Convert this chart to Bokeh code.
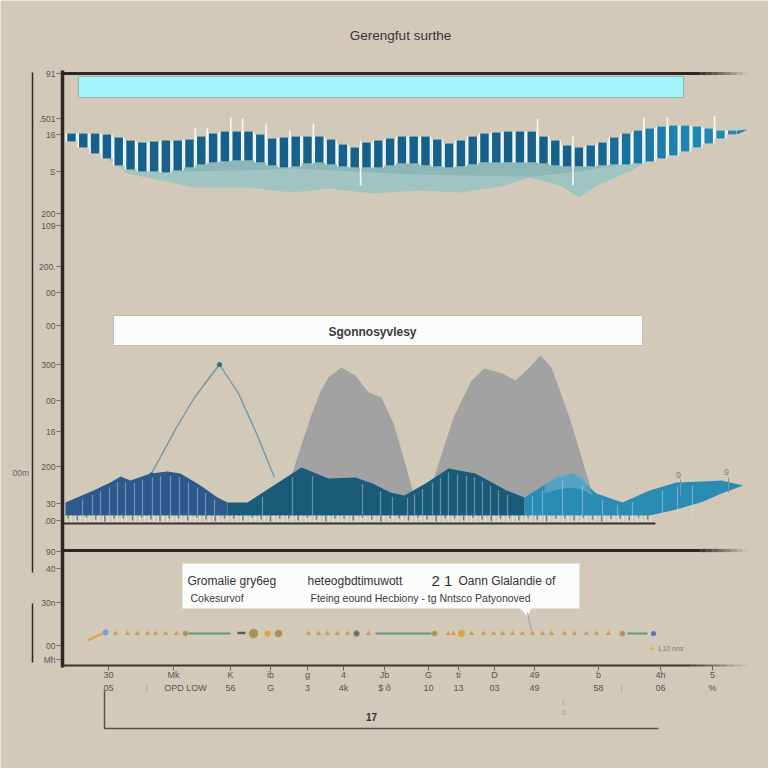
import numpy as np
from bokeh.plotting import figure
from bokeh.models import Range1d
from bokeh.core.properties import value
from bokeh.embed import file_html
from bokeh.resources import INLINE

# ---------------- data ----------------
title_text = "Gerengfut surthe"
mid_box_text = "Sgonnosyvlesy"

# top panel: striped band, one bar per sample (upper and lower level)
band_index = list(range(1, 58))
band_upper = [67, 67, 67, 66, 63, 60, 58, 59, 60, 60, 61, 64, 67, 69, 69, 69, 66, 62, 63, 64,
              64, 64, 61, 56, 53, 58, 60, 62, 64, 64, 64, 61, 57, 60, 64, 67, 68, 69, 69, 69,
              64, 60, 55, 53, 55, 58, 63, 67, 70, 72, 74, 75, 75, 74, 72, 70, 70]
band_lower = [59, 53, 47, 42, 35, 31, 29, 29, 28, 30, 33, 36, 38, 39, 40, 40, 38, 35, 33, 34,
              37, 38, 36, 34, 33, 33, 33, 35, 37, 37, 35, 34, 33, 34, 36, 38, 38, 38, 38, 38,
              37, 35, 34, 34, 34, 35, 36, 36, 37, 39, 42, 45, 49, 53, 57, 62, 66]
band_tip_index = [57.4, 58.3, 57.4]
band_tip_level = [70, 71, 66]

spike_index = [11.5, 12.5, 14.5, 15.5, 17.5, 19.5, 21.5, 25.5, 40.5, 43.5, 49.5, 51.5, 55.5]
spike_high = [72, 72, 83, 82, 77, 70, 77, 60, 82, 65, 83, 83, 85]
spike_low = [55, 55, 55, 55, 55, 55, 55, 15, 55, 15, 60, 60, 62]

teal_index = [1.34, 3.46, 5.75, 8.54, 11.4, 15.9, 19.7, 22.8, 26.5, 30.3, 34.1, 37.4, 39.8,
              42.4, 44.0, 45.5, 48.5, 51.2, 53.8, 56.0]
teal_upper = [62, 50, 35, 32, 40, 42, 40, 40, 40, 40, 40, 40, 40, 40, 40, 40, 40, 50, 58, 66]
teal_lower = [60, 47, 27, 20, 13, 13, 8, 12, 7, 10, 8, 14, 23, 15, 3, 15, 30, 50, 60, 66]
teal2_index = [5.75, 10, 15, 20, 25, 30, 35, 40, 44, 48, 51]
teal2_upper = [35, 40, 40, 40, 40, 40, 40, 40, 40, 42, 50]
teal2_lower = [30, 29, 30, 32, 29, 26, 25, 24, 29, 37, 48]

# middle panel: wave, grey peaks, thin peak line
wave_x = [3, 31, 48, 58, 68, 88, 105, 118, 138, 155, 165, 185, 208, 239, 266, 293, 310, 328,
          342, 363, 386, 413, 444, 462, 489, 511, 534, 560, 587, 614, 641, 659, 681]
wave_top = [21, 33, 41, 47, 43, 50, 52, 50, 38, 26, 21, 21, 36, 56, 45, 46, 40, 31, 28, 40,
            55, 50, 33, 26, 43, 50, 30, 21, 33, 41, 42, 43, 38]
wave_base = [8] * 29 + [14, 22, 30, 38]
hump_x = [482, 495, 508, 520, 530]
hump_top = [38, 48, 51, 46, 30]
hump_base = [30, 34, 36, 34, 28]

grey1_x = [222, 236, 248, 258, 266, 279, 293, 306, 319, 331, 342, 351]
grey1_top = [25, 70, 106, 132, 146, 156, 148, 131, 126, 100, 63, 30]
grey2_x = [365, 373, 391, 409, 422, 440, 453, 467, 478, 489, 507, 520, 529]
grey2_top = [25, 50, 106, 143, 155, 150, 143, 156, 168, 156, 106, 63, 33]

peak_line_x = [89, 114, 132, 157, 176, 194, 212]
peak_line_y = [50, 96, 126, 159, 130, 90, 46]

streak_x = [20, 30, 38, 47, 55, 63, 72, 80, 90, 98, 108, 117, 126, 135, 143, 152, 200, 230,
            250, 300, 318, 330, 345, 352, 360, 370, 378, 386, 395, 404, 412, 420, 428, 436,
            445, 470, 480, 500, 520, 540, 555, 570, 600, 615, 630]

# bottom panel: marker row
tri_x = [53, 65, 75, 85, 93, 103, 114, 246, 256, 265, 275, 285, 306, 386, 391, 409, 421,
         431, 440, 450, 460, 470, 480, 489, 502, 512, 524, 534, 546]
tri_y = [32] * len(tri_x)
olive_x = [123, 191, 216, 372, 560]
olive_size = [5, 9, 7, 5, 5]
orange_dot_x = [205, 399]
teal_dot_x = [294]
blue_dot_x = [43, 591]
green_start = [126, 313, 565]
green_end = [168, 369, 585]

# tick labels
left_tick_pos = [73, 118, 134, 171, 213, 225, 266, 292, 325, 364, 400, 431, 466, 503, 520,
                 551, 568, 602, 645, 659]
left_tick_labels = ["91", ".501", "16", "S", "200", "109", "200.", "00", "00", "300", "00",
                    "16", "200", "30", ".00", "90", "40", "30n", "00", "Mh"]
bottom_tick_pos = [108, 173, 230, 270, 307, 343, 384, 428, 458, 494, 534, 598, 660, 712]
bottom_row1 = ["30", "Mk", "K", "ib", "g", "4", "Jb", "G", "ti", "D", "49", "b", "4h", "5"]
bottom_row2 = ["05", "OPD LOW", "56", "G", "3", "4k", "$ õ", "10", "13", "03", "49", "58",
               "06", "%"]

# ---------------- styles ----------------
BG = "#d3c9b9"
DARK = "#2b2826"
FONT = value("Liberation Sans")
W = 768


def lin_range(v_a, px_a, v_b, px_b, lo_px, hi_px):
    s = (v_b - v_a) / (px_b - px_a)
    return Range1d(start=v_a + (lo_px - px_a) * s, end=v_a + (hi_px - px_a) * s)


def blend(c1, c2, t):
    a = [int(c1[i:i + 2], 16) for i in (1, 3, 5)]
    b = [int(c2[i:i + 2], 16) for i in (1, 3, 5)]
    return "#%02x%02x%02x" % tuple(int(round(a[k] + (b[k] - a[k]) * t)) for k in range(3))


p = figure(width=W, height=W, x_range=Range1d(0, W), y_range=Range1d(W, 0),
           output_backend="svg", toolbar_location=None, min_border=0,
           x_axis_type=None, y_axis_type=None)
p.background_fill_color = BG
p.border_fill_color = BG
p.outline_line_color = None

p.extra_x_ranges = {
    "tx": lin_range(1, 71, 2, 82.8, 0, W),
    "mx": lin_range(0, 62, 100, 162, 0, W),
}
p.extra_y_ranges = {
    "ty": lin_range(0, 200, 100, 100, W, 0),
    "my": lin_range(0, 523, 100, 423, W, 0),
    "by": lin_range(0, 665, 100, 565, W, 0),
}
T = dict(x_range_name="tx", y_range_name="ty")
M = dict(x_range_name="mx", y_range_name="my")
B = dict(x_range_name="mx", y_range_name="by")


def fade_line(x0, xs, x1, y0, y1, width, color):
    p.segment(x0=[x0], y0=[y0], x1=[xs], y1=[y1], line_width=width, line_color=color)
    n = 8
    edges = np.linspace(xs, x1, n + 1)
    p.segment(x0=edges[:-1], y0=[y0] * n, x1=edges[1:], y1=[y1] * n, line_width=width,
              line_color=color, line_alpha=list(np.linspace(0.9, 0.05, n)))


# ---- title
p.text(x=[400], y=[35], text=[title_text], text_font=FONT, text_font_size="13.5px",
       text_color="#353535", text_align="center", text_baseline="middle")

# ---- top panel
p.varea(x=teal_index, y1=teal_lower, y2=teal_upper, fill_color="#9fc4c1", **T)
p.varea(x=teal2_index, y1=teal2_lower, y2=teal2_upper, fill_color="#8db6b6", **T)
bar_colors = [blend("#15618c", "#2088b6", min(1, max(0, (i - 44) / 10))) for i in band_index]
p.vbar(x=band_index, top=band_upper, bottom=band_lower, width=1.0, fill_color="#f4f6f6",
       line_color=None, **T)
p.vbar(x=band_index, top=band_upper, bottom=band_lower, width=0.72, fill_color=bar_colors,
       line_color=None, **T)
p.patch(x=band_tip_index, y=band_tip_level, fill_color="#2088b6", line_color=None, **T)
p.segment(x0=spike_index, y0=spike_low, x1=spike_index, y1=spike_high, line_color="#f7f7f5",
          line_width=1.6, **T)

# cyan banner
p.quad(left=[78], right=[683], top=[76], bottom=[97], fill_color="#a1f4fa",
       line_color="#8fb7bb", line_width=1)

# ---- middle panel
p.quad(left=[113], right=[642], top=[315], bottom=[345], fill_color="#fbfbfb",
       line_color="#bdbdbd", line_width=1)
p.text(x=[372], y=[331], text=[mid_box_text], text_font=FONT, text_font_size="12px",
       text_font_style="bold", text_color="#3a3a3a", text_align="center",
       text_baseline="middle")

p.varea(x=grey1_x, y1=[15] * len(grey1_x), y2=grey1_top, fill_color="#a2a2a2", **M)
p.varea(x=grey2_x, y1=[15] * len(grey2_x), y2=grey2_top, fill_color="#a2a2a2", **M)
p.line(x=peak_line_x, y=peak_line_y, line_color="#6a95a8", line_width=1.3, **M)
p.scatter(x=[peak_line_x[3], peak_line_x[0]], y=[peak_line_y[3], peak_line_y[0]],
          size=[5, 3], fill_color="#2f6f8a", line_color=None, **M)

segs = [(0, 11, "#2d5a8c"), (10, 24, "#1b5b7a"), (23, 33, "#2b8cb3")]
for a, b, col in segs:
    p.varea(x=wave_x[a:b], y1=wave_base[a:b], y2=wave_top[a:b], fill_color=col, **M)
p.varea(x=hump_x, y1=hump_base, y2=hump_top, fill_color="#62a9c8", fill_alpha=0.75, **M)

streak_top = list(np.interp(streak_x, wave_x, wave_top) - 4)
p.segment(x0=streak_x, y0=[8] * len(streak_x), x1=streak_x, y1=streak_top,
          line_color="#dfe6ee", line_alpha=0.4, line_width=1.2, **M)

# ragged strip under the wave
strip_x = np.arange(4, 592, 4.6)
p.segment(x0=strip_x, y0=[1.5] * len(strip_x), x1=strip_x, y1=[8] * len(strip_x),
          line_color="#f3efe8", line_alpha=0.55, line_width=1.6, **M)
drip_x = strip_x[::2] + 1.5
drip_len = [3, 5, 2, 4, 6, 3] * (len(drip_x) // 6 + 1)
p.segment(x0=drip_x, y0=[8] * len(drip_x), x1=drip_x,
          y1=[8 - d for d in drip_len[:len(drip_x)]],
          line_color="#2a6a8c", line_alpha=0.7, line_width=1.5, **M)
p.segment(x0=[0], y0=[0], x1=[593], y1=[0], line_color="#3a3531", line_width=2, **M)

# small "9" markers on the right
p.segment(x0=[680, 728], y0=[479, 477], x1=[680, 728], y1=[496, 492], line_color="#7f959c",
          line_width=1)
p.text(x=[678, 726], y=[474, 471], text=["9", "9"], text_font=FONT, text_font_size="9px",
       text_color="#6f8790", text_align="center", text_baseline="middle")

# ---- frame lines / axes
p.segment(x0=[62], y0=[70], x1=[62], y1=[667], line_color=DARK, line_width=3.5)
p.segment(x0=[32, 32], y0=[72, 603], x1=[32, 32], y1=[572, 662], line_color=DARK,
          line_width=1.5)
fade_line(62, 700, 748, 73, 73, 3.2, DARK)
fade_line(62, 700, 748, 550, 550, 3.2, DARK)
fade_line(62, 690, 748, 665, 665, 2.0, "#3a3531")

# left ticks
p.segment(x0=[56] * len(left_tick_pos), y0=left_tick_pos, x1=[60] * len(left_tick_pos),
          y1=left_tick_pos, line_color="#6a6a6a", line_width=1)
p.text(x=[55] * len(left_tick_pos), y=left_tick_pos, text=left_tick_labels, text_font=FONT,
       text_font_size="8.5px", text_color="#555555", text_align="right",
       text_baseline="middle")
p.text(x=[12], y=[472], text=["00m"], text_font=FONT, text_font_size="8.5px",
       text_color="#666666", text_align="left", text_baseline="middle")

# bottom ticks
p.segment(x0=bottom_tick_pos, y0=[665] * len(bottom_tick_pos), x1=bottom_tick_pos,
          y1=[670] * len(bottom_tick_pos), line_color="#666666", line_width=1)
p.text(x=bottom_tick_pos, y=[674] * len(bottom_tick_pos), text=bottom_row1, text_font=FONT,
       text_font_size="9px", text_color="#555555", text_align="center",
       text_baseline="middle")
row2_x = list(bottom_tick_pos)
row2_x[1] = 185
p.text(x=row2_x, y=[687] * len(bottom_tick_pos), text=bottom_row2, text_font=FONT,
       text_font_size="9px", text_color="#555555", text_align="center",
       text_baseline="middle")
p.text(x=[146, 621, 563, 563], y=[687, 687, 702, 712], text=["|", "|", "i", "ö"],
       text_font=FONT, text_font_size="8px", text_color="#9a9a9a", text_align="center",
       text_baseline="middle")
p.line(x=[104, 104, 658], y=[690, 728, 728], line_color="#555555", line_width=1.5)
p.text(x=[371], y=[716], text=["17"], text_font=FONT, text_font_size="10px",
       text_font_style="bold", text_color="#333333", text_align="center",
       text_baseline="middle")

# ---- bottom panel: callout
p.quad(left=[182], right=[579], top=[563], bottom=[608], fill_color="#fcfcfc",
       line_color="#e2e2e2", line_width=1)
p.patch(x=[519, 531, 527], y=[607, 607, 616], fill_color="#fcfcfc", line_color=None)
p.line(x=[527, 529, 531], y=[612, 622, 630], line_color="#9c9c9c", line_width=1)
p.text(x=[187, 307, 431, 458], y=[580, 580, 580, 580],
       text=["Gromalie gry6eg", "heteogbdtimuwott", "2 1", "Oann Glalandie of"],
       text_font=FONT, text_font_size=["12px", "12px", "15px", "12px"], text_color="#333333",
       text_align="left", text_baseline="middle")
p.text(x=[190, 310], y=[597, 597],
       text=["Cokesurvof", "Fteing eound Hecbiony - tg Nntsco Patyonoved"],
       text_font=FONT, text_font_size="10.5px", text_color="#3a3a3a", text_align="left",
       text_baseline="middle")

# ---- bottom panel: marker row
p.segment(x0=green_start, y0=[32] * 3, x1=green_end, y1=[32] * 3, line_color="#5e9a6e",
          line_width=2, **B)
p.segment(x0=[175], y0=[32.5], x1=[183], y1=[32.5], line_color="#5a5a5a", line_width=2.5, **B)
p.segment(x0=[25], y0=[25], x1=[40], y1=[32], line_color="#e0a855", line_width=2.5, **B)
p.scatter(x=tri_x, y=tri_y, marker="triangle", size=5, fill_color="#d49a52",
          line_color=None, **B)
p.scatter(x=olive_x, y=[32] * len(olive_x), size=olive_size, fill_color="#a8905c",
          line_color="#c49a55", line_width=0.8, **B)
p.scatter(x=orange_dot_x, y=[32] * 2, size=[6, 7], fill_color="#e0a048", line_color=None, **B)
p.scatter(x=teal_dot_x, y=[32], size=6, fill_color="#3f7f88", line_color="#c89a55", **B)
p.scatter(x=blue_dot_x, y=[33, 32], size=[6, 5], fill_color=["#6aa6d0", "#5a70b8"],
          line_color=None, **B)
p.scatter(x=[590], y=[17], size=3, fill_color="#d8b040", line_color=None, **B)
p.text(x=[658], y=[648], text=["L10 ons"], text_font=FONT, text_font_size="7px",
       text_color="#7a7a7a", text_align="left", text_baseline="middle")

open("out.html", "w").write(file_html(p, INLINE))
